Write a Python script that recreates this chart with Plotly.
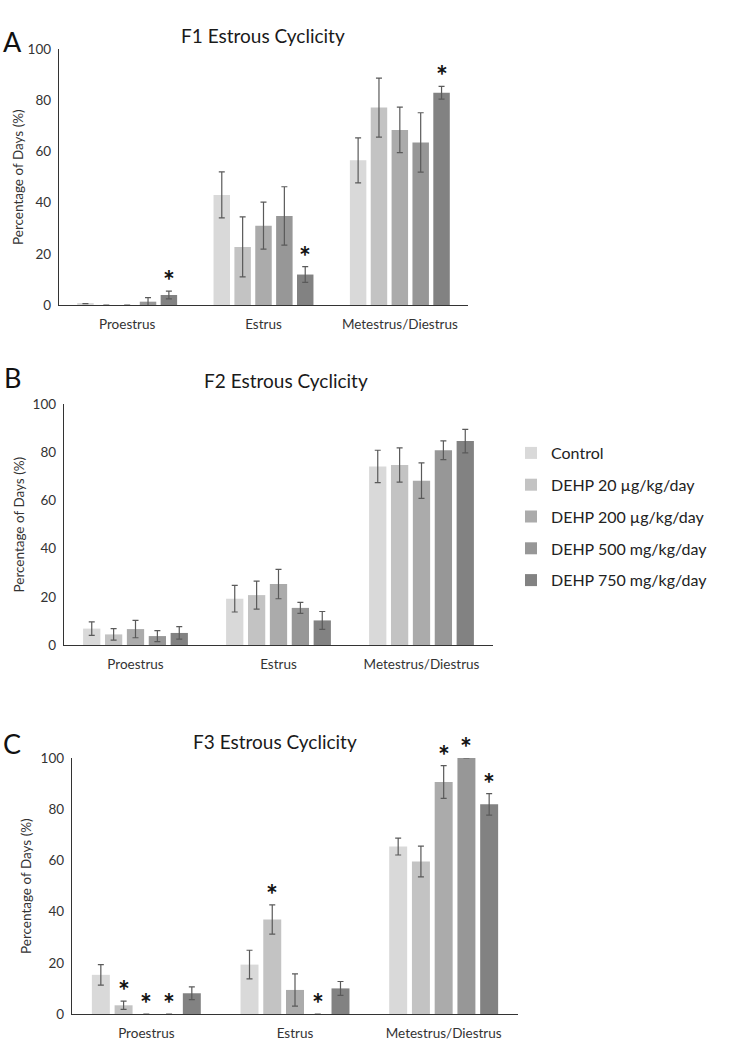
import plotly.graph_objects as go

# ---- data ----
stages = ["Proestrus", "Estrus", "Metestrus/Diestrus"]
groups = ["Control", "DEHP 20 µg/kg/day", "DEHP 200 µg/kg/day",
          "DEHP 500 mg/kg/day", "DEHP 750 mg/kg/day"]
colors = ["#d9d9d9", "#c3c3c3", "#ababab", "#979797", "#828282"]

# F1 means / sem, one list per group, in stage order
f1_mean = [[0.5, 43.0, 56.5], [0, 22.7, 77.1], [0, 31.0, 68.4],
           [1.3, 34.8, 63.5], [3.9, 11.9, 82.9]]
f1_err = [[0, 9.0, 8.8], [0, 11.7, 11.5], [0, 9.2, 8.9],
          [1.6, 11.4, 11.6], [1.5, 3.1, 2.5]]
f1_stars = [(0, 4), (1, 4), (2, 4)]  # (stage index, group index)

f2_mean = [[6.8, 19.2, 74.1], [4.4, 20.7, 74.7], [6.6, 25.3, 68.2],
           [3.7, 15.4, 80.8], [5.0, 10.2, 84.6]]
f2_err = [[2.8, 5.5, 6.7], [2.4, 5.8, 7.1], [3.6, 6.1, 7.4],
          [2.3, 2.3, 3.9], [2.6, 3.7, 4.9]]
f2_stars = []

f3_mean = [[15.3, 19.3, 65.4], [3.4, 36.9, 59.6], [0, 9.4, 90.6],
           [0, 0, 100.0], [8.1, 10.0, 81.9]]
f3_err = [[4.0, 5.6, 3.3], [1.6, 5.7, 6.0], [0, 6.3, 6.4],
          [0, 0, 0], [2.5, 2.7, 4.2]]
f3_stars = [(0, 1), (0, 2), (0, 3), (1, 1), (1, 3), (2, 2), (2, 3), (2, 4)]

titles = ["F1 Estrous Cyclicity", "F2 Estrous Cyclicity", "F3 Estrous Cyclicity"]
letters = ["A", "B", "C"]
ytitle = "Percentage of Days (%)"

# ---- layout geometry (pixels) ----
W, H = 743, 1043
FONT = "Lato"
# plot area: x left, x right, y top (=100), y bottom (=0)
boxes = [(59, 468, 49, 305), (64, 493, 404, 645), (72, 518, 758, 1014)]
title_pos = [(263, 36), (286, 381), (275, 741)]
letter_pos = [(13, 42), (12, 378), (12, 743)]
ytitle_x = [18, 18, 26]
BARGAP, GROUPGAP = 0.235, 0.21

fig = go.Figure()
panels = [(f1_mean, f1_err, f1_stars), (f2_mean, f2_err, f2_stars),
          (f3_mean, f3_err, f3_stars)]

annotations = []
for p, (means, errs, stars) in enumerate(panels):
    sfx = "" if p == 0 else str(p + 1)
    for g in range(5):
        fig.add_trace(go.Bar(
            x=stages, y=means[g], name=groups[g],
            marker=dict(color=colors[g], line=dict(width=0)),
            error_y=dict(type="data", array=errs[g], color="#5a5a5a",
                         thickness=1.2, width=3),
            xaxis="x" + sfx, yaxis="y" + sfx,
            legendgroup=groups[g], showlegend=(p == 0),
        ))
    x0, x1, y0, y1 = boxes[p]
    slot = (x1 - x0) / 3 * (1 - BARGAP) / 5
    for si, gi in stars:
        top = means[gi][si] + errs[gi][si]
        annotations.append(dict(
            x=stages[si], y=top, xref="x" + sfx, yref="y" + sfx,
            text="<b>*</b>", showarrow=False, xshift=(gi - 2) * slot,
            yanchor="bottom", yshift=-8,
            font=dict(family=FONT, size=28, color="#111"),
        ))
    tx, ty = title_pos[p]
    annotations.append(dict(x=tx / W, y=1 - ty / H, xref="paper", yref="paper",
                            text=titles[p], showarrow=False,
                            xanchor="center", yanchor="middle",
                            font=dict(family=FONT, size=19, color="#1a1a1a")))
    lx, ly = letter_pos[p]
    annotations.append(dict(x=lx / W, y=1 - ly / H, xref="paper", yref="paper",
                            text=letters[p], showarrow=False,
                            xanchor="center", yanchor="middle",
                            font=dict(family=FONT, size=27, color="#111")))
    annotations.append(dict(x=ytitle_x[p] / W, y=1 - (y0 + y1) / 2 / H,
                            xref="paper", yref="paper", text=ytitle,
                            textangle=-90, showarrow=False,
                            xanchor="center", yanchor="middle",
                            font=dict(family=FONT, size=13.5, color="#333")))

axis_common = dict(showgrid=False, zeroline=False, showline=True,
                   linecolor="#333333", linewidth=1.4, automargin=False)
layout = dict(
    width=W, height=H, margin=dict(l=0, r=0, t=0, b=0),
    paper_bgcolor="white", plot_bgcolor="white",
    barmode="group", bargap=BARGAP, bargroupgap=GROUPGAP,
    font=dict(family=FONT, color="#404040"),
    annotations=annotations,
    legend=dict(x=511 / W, y=1 - 436 / H, xanchor="left", yanchor="top",
                font=dict(family=FONT, size=16, color="#222"),
                tracegroupgap=8, itemwidth=30, bgcolor="rgba(0,0,0,0)"),
)
for p in range(3):
    sfx = "" if p == 0 else str(p + 1)
    x0, x1, y0, y1 = boxes[p]
    layout["xaxis" + sfx] = dict(
        axis_common, domain=[x0 / W, x1 / W], anchor="y" + sfx,
        ticks="outside", ticklen=7, tickcolor="rgba(0,0,0,0)",
        tickfont=dict(family=FONT, size=13.5, color="#333"),
    )
    layout["yaxis" + sfx] = dict(
        axis_common, domain=[1 - y1 / H, 1 - y0 / H], anchor="x" + sfx,
        range=[0, 100], tickvals=[0, 20, 40, 60, 80, 100],
        ticks="outside", ticklen=4, tickcolor="rgba(0,0,0,0)",
        tickfont=dict(family=FONT, size=13.5, color="#333"),
    )

fig.update_layout(**layout)
# drop the default page margin so the figure sits at the window's corner
fig.write_html("out.html", config={"displayModeBar": False},
               post_script="document.body.style.margin='0';")
